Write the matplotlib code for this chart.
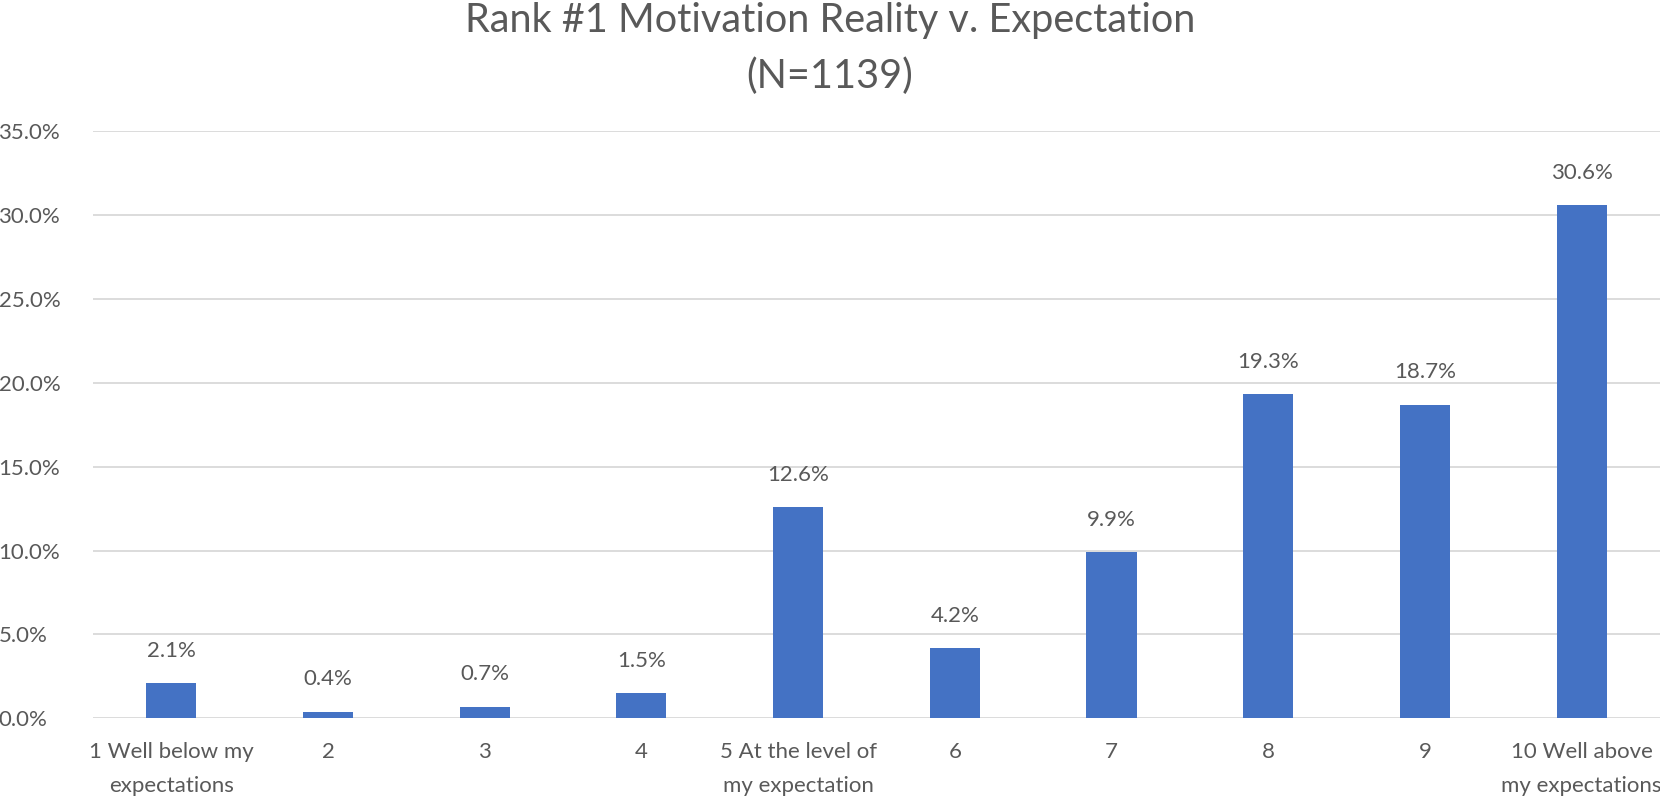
import matplotlib
matplotlib.use("Agg")
import matplotlib.pyplot as plt
from matplotlib.ticker import FuncFormatter, MultipleLocator

categories = ["1 Well below my\nexpectations", "2", "3", "4", "5 At the level of\nmy expectation",
              "6", "7", "8", "9", "10 Well above\nmy expectations"]
values = [2.1, 0.4, 0.7, 1.5, 12.6, 4.2, 9.9, 19.3, 18.7, 30.6]
title = "Rank #1 Motivation Reality v. Expectation\n(N=1139)"

plt.rcParams['font.family'] = ['Lato', 'DejaVu Sans']
plt.rcParams['font.weight'] = 'normal'
gray = "#595959"

fig = plt.figure(figsize=(16.6, 7.99), dpi=100)
ax = fig.add_axes([0.056, 0.101, 0.944, 0.735])
x = list(range(len(values)))
ax.bar(x, values, width=0.32, color="#4472C4", zorder=3)
ax.set_xlim(-0.5, 9.5)
ax.set_ylim(0, 35)
ax.yaxis.set_major_locator(MultipleLocator(5))
ax.yaxis.set_major_formatter(FuncFormatter(lambda v, p: f"{v:.1f}%"))
ax.grid(axis='y', color="#D9D9D9", linewidth=1.3, zorder=0)
for s in ax.spines.values():
    s.set_visible(False)
ax.tick_params(axis='both', length=0, labelsize=16, labelcolor=gray)
ax.tick_params(axis='x', pad=17)
ax.set_xticks(x)
ax.set_xticklabels(categories, linespacing=1.9)
for lbl in ax.get_yticklabels():
    lbl.set_horizontalalignment('left')
ax.yaxis.set_tick_params(pad=68)
for xi, v in zip(x, values):
    ax.annotate(f"{v:.1f}%", (xi, v), xytext=(0, 16), textcoords='offset points',
                ha='center', va='bottom', fontsize=16, color=gray)
fig.text(0.5, 0.997, title, ha='center', va='top', fontsize=28.5, color=gray, linespacing=1.6)
fig.savefig("out.png", dpi=100, facecolor='white')
